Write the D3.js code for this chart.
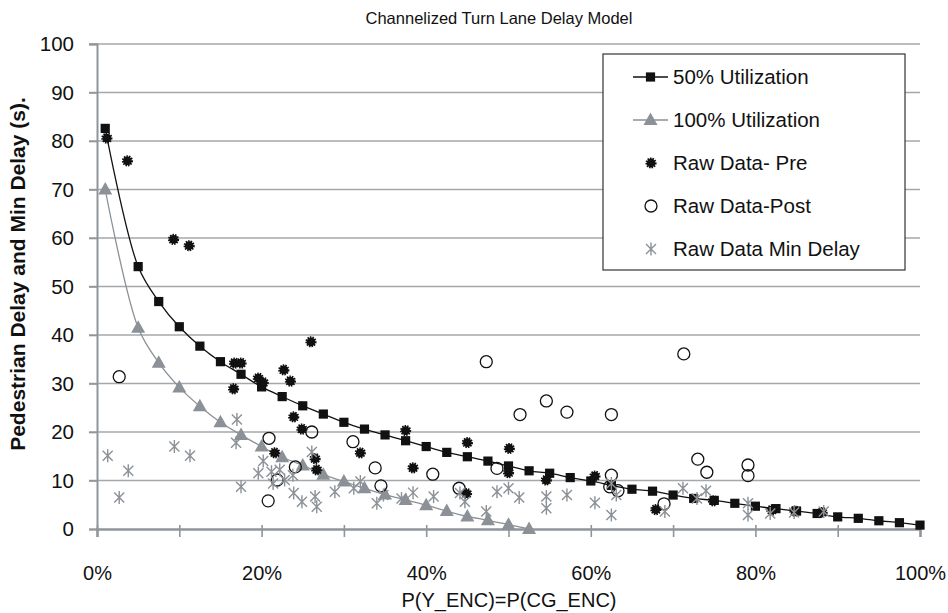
<!DOCTYPE html>
<html><head><meta charset="utf-8">
<script src="https://cdn.jsdelivr.net/npm/d3@7"></script>
<style>
html,body{margin:0;padding:0;background:#fff;}
svg text{font-family:"Liberation Sans",Arial,sans-serif;fill:#111;}
</style></head>
<body><svg id="chart" width="948" height="613"></svg>
<script>
const chartTitle = "Channelized Turn Lane Delay Model";
const xAxisTitle = "P(Y_ENC)=P(CG_ENC)";
const yAxisTitle = "Pedestrian Delay and Min Delay (s).";
const xTicks = [0, 0.1, 0.2, 0.3, 0.4, 0.5, 0.6, 0.7, 0.8, 0.9, 1.0];
const xTickLabels = ["0%", "", "20%", "", "40%", "", "60%", "", "80%", "", "100%"];
const yTicks = [0, 10, 20, 30, 40, 50, 60, 70, 80, 90, 100];
const seriesNames = ["50% Utilization", "100% Utilization", "Raw Data- Pre", "Raw Data-Post", "Raw Data Min Delay"];

// model curves: x (fraction), delay (s)
const util50X = [0.01,0.05,0.075,0.10,0.125,0.15,0.175,0.20,0.225,0.25,0.275,0.30,0.325,0.35,0.375,0.40,0.425,0.45,0.475,0.50,0.525,0.55,0.575,0.60,0.625,0.65,0.675,0.70,0.725,0.75,0.775,0.80,0.825,0.85,0.875,0.90,0.925,0.95,0.975,1.00];
const util50Y = [82.6,54.1,46.9,41.7,37.7,34.5,31.9,29.3,27.3,25.4,23.7,22.0,20.6,19.4,18.2,17.0,15.8,14.9,14.0,13.0,12.0,11.5,10.6,9.9,9.0,8.2,7.8,7.0,6.3,5.9,5.3,4.7,4.2,3.7,3.2,2.5,2.2,1.7,1.3,0.8];
const util100X = [0.01,0.05,0.075,0.10,0.125,0.15,0.175,0.20,0.225,0.25,0.275,0.30,0.325,0.35,0.375,0.40,0.425,0.45,0.475,0.50,0.525];
const util100Y = [70.0,41.5,34.3,29.2,25.3,22.0,19.4,17.0,14.8,13.1,11.2,9.8,8.4,7.1,6.0,4.9,3.7,2.6,1.8,0.9,0.0];

// raw data (x in %, delay in s)
const rawPre = [[1.2,80.6],[3.7,75.9],[9.3,59.7],[11.2,58.4],[16.7,34.2],[17.5,34.2],[16.6,28.9],[19.6,31.1],[20.2,30.2],[21.6,15.7],[22.7,32.8],[23.5,30.5],[23.9,23.1],[24.9,20.6],[26.0,38.6],[26.5,14.5],[26.7,12.2],[32.0,15.7],[37.5,20.3],[38.4,12.6],[45.0,17.8],[44.9,7.3],[50.1,16.6],[50.0,11.6],[54.6,10.1],[60.5,10.9],[67.9,4.0],[74.9,5.8],[82.0,3.9],[84.8,3.7],[88.1,3.4]];
const rawPost = [[2.7,31.4],[20.9,18.7],[20.8,5.8],[21.9,10.1],[24.1,12.8],[26.1,20.0],[31.1,18.0],[33.8,12.6],[34.5,8.9],[40.8,11.3],[44.0,8.4],[47.3,34.5],[48.6,12.5],[51.4,23.6],[54.6,26.4],[57.1,24.1],[62.5,23.6],[62.5,11.1],[62.3,8.7],[63.3,7.9],[68.9,5.2],[71.3,36.1],[73.0,14.4],[74.1,11.7],[79.1,13.2],[79.1,11.0]];
const rawMin = [[1.3,15.1],[2.7,6.5],[3.8,12.0],[9.4,17.0],[11.3,15.1],[17.0,22.6],[16.9,17.8],[17.5,8.7],[19.6,11.5],[20.2,14.0],[21.2,11.8],[22.2,12.2],[21.4,9.4],[22.8,10.1],[23.8,11.1],[23.9,7.4],[24.9,5.6],[26.1,15.9],[26.5,6.7],[26.7,4.6],[28.9,7.7],[31.2,8.4],[32.0,9.8],[34.0,5.3],[34.8,7.0],[37.0,6.3],[38.4,7.5],[40.9,6.7],[44.1,7.4],[44.7,5.6],[47.3,3.6],[48.6,7.7],[50.0,8.4],[51.3,6.5],[54.6,6.7],[54.6,4.3],[57.1,7.0],[60.5,5.4],[62.5,9.4],[62.5,2.9],[63.1,7.0],[69.0,3.6],[71.2,8.4],[72.9,6.3],[74.0,7.9],[79.1,5.3],[79.1,2.9],[81.8,3.2],[84.7,3.4],[88.3,3.6]];

const GRID = "#a3a8ad", AXIS = "#8f959a", GRAY = "#8b9196";
const svg = d3.select("#chart");
const x = d3.scaleLinear().domain([0, 1]).range([97, 920]);
const y = d3.scaleLinear().domain([0, 100]).range([529, 44]);

// gridlines with left ticks
svg.append("g").selectAll("line").data(yTicks.filter(d => d > 0)).join("line")
  .attr("x1", 89).attr("x2", 920).attr("y1", d => y(d)).attr("y2", d => y(d))
  .attr("stroke", GRID).attr("stroke-width", 1.6);
// y axis
const yAxis = svg.append("g").attr("transform", "translate(97,0)")
  .call(d3.axisLeft(y).tickValues(yTicks).tickSize(8).tickPadding(15).tickFormat(d3.format("d")));
yAxis.select(".domain").attr("stroke", AXIS).attr("stroke-width", 2);
yAxis.selectAll(".tick line").attr("stroke", AXIS).attr("stroke-width", 1.6);
yAxis.selectAll(".tick text").attr("font-size", 20.5).attr("fill", "#111");
// x axis
const xAxis = svg.append("g").attr("transform", "translate(0,529)")
  .call(d3.axisBottom(x).tickValues(xTicks).tickSize(8).tickPadding(29)
    .tickFormat((d, i) => xTickLabels[i]));
xAxis.select(".domain").attr("stroke", AXIS).attr("stroke-width", 2.4);
xAxis.selectAll(".tick line").attr("stroke", AXIS).attr("stroke-width", 1.6).attr("y1", -4);
xAxis.selectAll(".tick text").attr("font-size", 20).attr("fill", "#111");

// titles
svg.append("text").attr("x", 499).attr("y", 24).attr("text-anchor", "middle").attr("font-size", 16.5).text(chartTitle);
svg.append("text").attr("x", 509).attr("y", 607).attr("text-anchor", "middle").attr("font-size", 20).text(xAxisTitle);
svg.append("text").attr("transform", "translate(25,274) rotate(-90)").attr("text-anchor", "middle")
  .attr("font-size", 21).attr("font-weight", "bold").text(yAxisTitle);

// lines
const line = d3.line().x(d => x(d[0])).y(d => y(d[1])).curve(d3.curveCatmullRom.alpha(0.5));
const s50 = util50X.map((v, i) => [v, util50Y[i]]);
const s100 = util100X.map((v, i) => [v, util100Y[i]]);

const triPath = "M0,-7.5L7,5L-7,5Z";
const starPath = "M-5,-5L5,5M-5,5L5,-5M0,-6.5L0,6.5";

function drawSquare(g, cx, cy) {
  g.append("rect").attr("x", cx - 4.6).attr("y", cy - 4.6).attr("width", 9.2).attr("height", 9.2).attr("fill", "#111");
}
function drawTri(g, cx, cy) {
  g.append("path").attr("d", triPath).attr("transform", `translate(${cx},${cy})`).attr("fill", GRAY);
}
function drawPre(g, cx, cy) {
  g.append("circle").attr("cx", cx).attr("cy", cy).attr("r", 4.4).attr("fill", "#111")
    .attr("stroke", "#111").attr("stroke-width", 2.4).attr("stroke-dasharray", "1.4,1.0");
}
function drawPost(g, cx, cy) {
  g.append("circle").attr("cx", cx).attr("cy", cy).attr("r", 6).attr("fill", "none").attr("stroke", "#111").attr("stroke-width", 1.3);
}
function drawMin(g, cx, cy) {
  g.append("path").attr("d", starPath).attr("transform", `translate(${cx},${cy})`).attr("fill", "none")
    .attr("stroke", GRAY).attr("stroke-width", 1.4);
}

const gl = svg.append("g");
gl.append("path").datum(s50).attr("d", line).attr("fill", "none").attr("stroke", "#111").attr("stroke-width", 1.3);
s50.forEach(d => drawSquare(gl, x(d[0]), y(d[1])));
gl.append("path").datum(s100).attr("d", line).attr("fill", "none").attr("stroke", GRAY).attr("stroke-width", 1.3);
s100.forEach(d => drawTri(gl, x(d[0]), y(d[1])));
const gp = svg.append("g");
rawPre.forEach(d => drawPre(gp, x(d[0] / 100), y(d[1])));
rawPost.forEach(d => drawPost(gp, x(d[0] / 100), y(d[1])));
rawMin.forEach(d => drawMin(gp, x(d[0] / 100), y(d[1])));

// legend
const lg = svg.append("g");
lg.append("rect").attr("x", 603).attr("y", 54).attr("width", 302).attr("height", 216)
  .attr("fill", "#fff").attr("stroke", "#333").attr("stroke-width", 1.2);
const rowY = [77, 120, 163, 206, 249];
seriesNames.forEach((name, i) => {
  const cy = rowY[i];
  if (i === 0) {
    lg.append("line").attr("x1", 633).attr("x2", 668).attr("y1", cy).attr("y2", cy).attr("stroke", "#111").attr("stroke-width", 1.3);
    drawSquare(lg, 650.5, cy);
  } else if (i === 1) {
    lg.append("line").attr("x1", 633).attr("x2", 668).attr("y1", cy).attr("y2", cy).attr("stroke", GRAY).attr("stroke-width", 1.3);
    drawTri(lg, 650.5, cy);
  } else if (i === 2) drawPre(lg, 651, cy);
  else if (i === 3) drawPost(lg, 651, cy);
  else drawMin(lg, 651, cy);
  lg.append("text").attr("x", 673).attr("y", cy + 7).attr("font-size", 20.5).text(name);
});
</script></body></html>
